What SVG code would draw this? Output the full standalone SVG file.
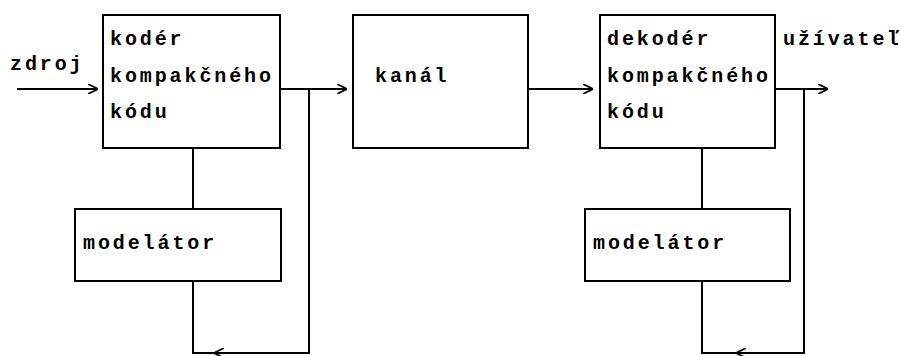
<svg xmlns="http://www.w3.org/2000/svg" width="901" height="356" viewBox="0 0 901 356">
<defs>
<marker id="arr" viewBox="0 0 10 10" refX="10" refY="5" markerWidth="10" markerHeight="10" markerUnits="userSpaceOnUse" orient="auto">
<path d="M0,0 L10,5 L0,10" fill="none" stroke="#000" stroke-width="1.8"/>
</marker>
</defs>
<style>
.box{fill:#fff;stroke:#000;stroke-width:2}
.t{font-family:"Liberation Mono","Courier New",monospace;font-weight:bold;font-size:20px;letter-spacing:2.9px;fill:#000}
.c{fill:none;stroke:#000;stroke-width:2}
</style>
<rect width="901" height="356" fill="#fff"/>
<g id="connectors">
<path class="c" d="M17,89 H98" marker-end="url(#arr)"/>
<path class="c" d="M280,89 H347" marker-end="url(#arr)"/>
<path class="c" d="M528,89 H593" marker-end="url(#arr)"/>
<path class="c" d="M775,89 H828" marker-end="url(#arr)"/>
<path class="c" d="M193,148 V209"/>
<path class="c" d="M309,89 V353 H214" marker-end="url(#arr)"/>
<path class="c" d="M215,353 H193 V281"/>
<path class="c" d="M702,148 V209"/>
<path class="c" d="M804,89 V353 H736" marker-end="url(#arr)"/>
<path class="c" d="M737,353 H702 V281"/>
</g>
<g id="label-zdroj"><text class="t" x="10" y="70">zdroj</text></g>
<g id="label-uzivatel"><text class="t" x="783" y="45">užívateľ</text></g>
<g id="koder">
<rect class="box" x="103" y="15" width="177" height="133"/>
<text class="t" x="110" y="45">kodér</text>
<text class="t" x="110" y="82">kompakčného</text>
<text class="t" x="110" y="118">kódu</text>
</g>
<g id="modelator1">
<rect class="box" x="75" y="209" width="206" height="72"/>
<text class="t" x="83" y="249">modelátor</text>
</g>
<g id="kanal">
<rect class="box" x="353" y="15" width="175" height="133"/>
<text class="t" x="375" y="82">kanál</text>
</g>
<g id="dekoder">
<rect class="box" x="600" y="15" width="175" height="133"/>
<text class="t" x="607" y="45">dekodér</text>
<text class="t" x="607" y="82">kompakčného</text>
<text class="t" x="607" y="118">kódu</text>
</g>
<g id="modelator2">
<rect class="box" x="585" y="209" width="205" height="72"/>
<text class="t" x="593" y="249">modelátor</text>
</g>
</svg>
